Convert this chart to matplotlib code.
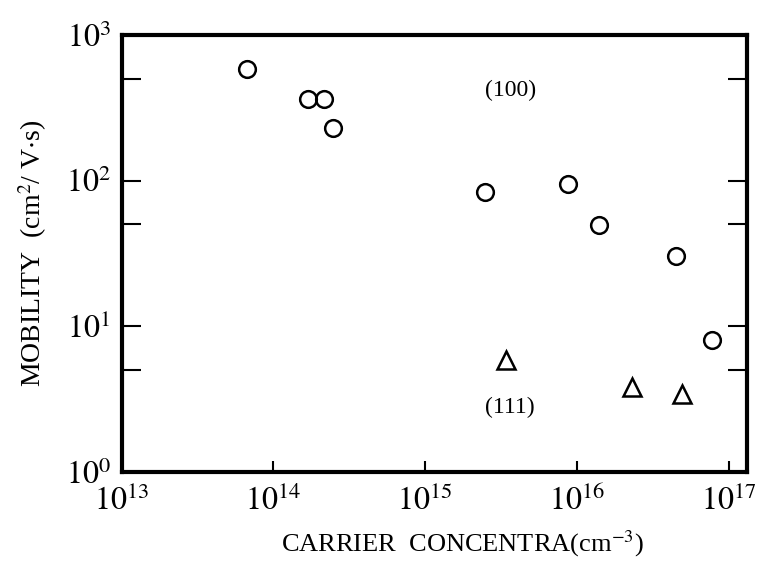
import matplotlib.pyplot as plt
from matplotlib.ticker import FixedLocator, NullFormatter

plt.rcParams['font.family'] = 'Liberation Serif'
plt.rcParams['mathtext.fontset'] = 'stix'

# (100) orientation, circles
c100_n = [6.7e13, 1.69e14, 2.15e14, 2.47e14, 2.49e15, 8.8e15, 1.41e16, 4.54e16, 7.73e16]
c100_mu = [580, 361, 361, 229, 83, 94, 49.5, 30.3, 8.1]

# (111) orientation, triangles
c111_n = [3.43e15, 2.32e16, 4.97e16]
c111_mu = [5.9, 3.8, 3.45]

fig = plt.figure(figsize=(7.61, 5.70), dpi=100)
ax = fig.add_axes([0.160, 0.172, 0.822, 0.767])

ax.plot(c100_n, c100_mu, 'o', ms=12, mfc='none', mec='black', mew=1.8)
ax.plot(c111_n, c111_mu, '^', ms=12.5, mfc='none', mec='black', mew=1.8)

ax.set_xscale('log')
ax.set_yscale('log')
ax.set_xlim(1e13, 1.33e17)
ax.set_ylim(1, 1000)

ax.text(3.64e15, 412, '(100)', fontsize=17, ha='center', va='center')
ax.text(3.64e15, 2.77, '(111)', fontsize=17, ha='center', va='center')

ax.xaxis.set_major_locator(FixedLocator([1e13, 1e14, 1e15, 1e16, 1e17]))
ax.xaxis.set_minor_locator(FixedLocator([]))
ax.yaxis.set_major_locator(FixedLocator([1, 10, 100, 1000]))
ax.yaxis.set_minor_locator(FixedLocator([5, 50, 500]))
ax.yaxis.set_minor_formatter(NullFormatter())
ax.set_xticklabels([r'$10^{13}$', r'$10^{14}$', r'$10^{15}$', r'$10^{16}$', r'$10^{17}$'])
ax.set_yticklabels([r'$10^{0}$', r'$10^{1}$', r'$10^{2}$', r'$10^{3}$'])

ax.tick_params(axis='x', which='both', direction='in', length=8, width=1.5,
               labelsize=23, pad=10, top=False)
ax.tick_params(axis='y', which='both', direction='in', length=14, width=1.5,
               labelsize=23, pad=8, right=True)

for s in ax.spines.values():
    s.set_linewidth(3)

ax.set_xlabel(r'CARRIER  CONCENTRA(cm$^{-3}$)', fontsize=19, labelpad=8, x=0.545)
ax.set_ylabel(r'MOBILITY  (cm$^2$/ V$\cdot$s)', fontsize=20, labelpad=12)

fig.savefig('out.png', dpi=100)
